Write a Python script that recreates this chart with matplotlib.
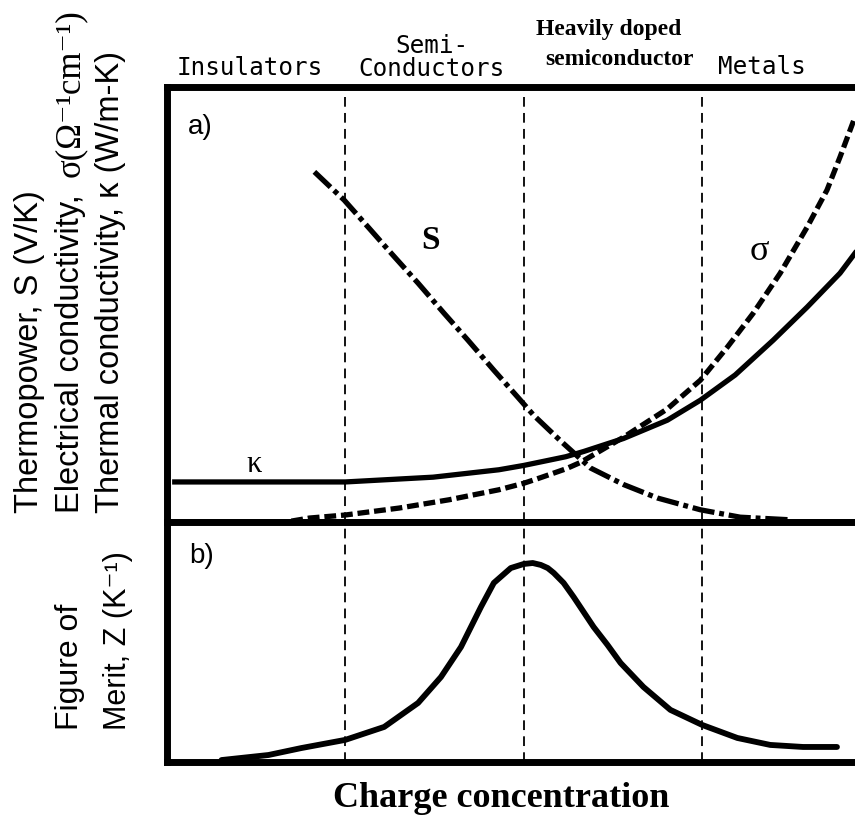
import matplotlib
matplotlib.use("Agg")
import matplotlib.pyplot as plt

plt.rcParams['lines.scale_dashes'] = False

# charge concentration in arbitrary units (region boundaries at 1, 2, 3)
boundaries = [1, 2, 3]

# a) thermopower S
S_x = [0.827, 0.994, 1.128, 1.257, 1.408, 1.553, 1.687, 1.832, 1.966, 2.056, 2.207,
       2.374, 2.559, 2.749, 2.989, 3.212, 3.492]
S_y = [80.5, 74.0, 67.8, 61.8, 54.9, 48.0, 41.8, 34.9, 28.7, 24.5, 18.6,
       12.4, 8.6, 5.5, 2.8, 1.1, 0.5]

# a) thermal conductivity kappa
k_x = [0.045, 0.374, 1.0, 1.492, 1.860, 2.0, 2.235, 2.335, 2.559, 2.804, 2.989, 3.184,
       3.397, 3.587, 3.771, 3.855]
k_y = [9.2, 9.2, 9.2, 10.3, 12.0, 13.0, 15.0, 16.2, 19.2, 23.4, 28.0, 33.8,
       41.8, 49.4, 57.2, 61.8]

# a) electrical conductivity sigma
sig_x = [0.698, 0.799, 1.0, 1.302, 1.581, 1.860, 2.0, 2.095, 2.235, 2.318, 2.559, 2.804,
         2.989, 3.140, 3.285, 3.436, 3.587, 3.698, 3.771, 3.855]
sig_y = [0.2, 0.9, 1.6, 3.2, 5.1, 7.4, 8.9, 10.2, 12.2, 13.7, 19.5, 26.0,
         32.6, 40.2, 48.0, 57.2, 67.8, 76.3, 83.9, 93.1]

# b) figure of merit Z
Z_x = [0.307, 0.570, 0.754, 1.0, 1.218, 1.408, 1.536, 1.648, 1.704, 1.760, 1.832,
       1.927, 2.0, 2.050, 2.095, 2.134, 2.168, 2.223, 2.279, 2.335, 2.391, 2.469, 2.542,
       2.670, 2.821, 3.0, 3.196, 3.380, 3.564, 3.754]
Z_y = [0.8, 2.9, 5.8, 9.2, 14.6, 24.6, 35.4, 47.9, 56.25, 64.6, 74.6,
       80.8, 82.5, 82.9, 82.1, 80.8, 78.75, 74.6, 68.75, 62.5, 56.25, 48.75, 41.25,
       31.25, 21.7, 15.4, 10.0, 7.1, 6.25, 6.25]

fig = plt.figure(figsize=(8.55, 8.18), dpi=100)
ax1 = fig.add_axes([0.195, 0.3619, 0.805, 0.5317])
ax2 = fig.add_axes([0.195, 0.0685, 0.805, 0.2934])

for ax in (ax1, ax2):
    ax.set_xlim(0, 3.855)
    ax.set_ylim(0, 100)
    ax.set_xticks([])
    ax.set_yticks([])
    for s in ['left', 'top', 'bottom']:
        ax.spines[s].set_linewidth(5)
    ax.spines['right'].set_visible(False)
    for b in boundaries:
        ax.axvline(b, color='black', lw=1.3, dashes=(7, 4.5))

ax1.plot(S_x, S_y, color='black', lw=3.8, dashes=(16, 3.5, 3.5, 3.5))
ax1.plot(k_x, k_y, color='black', lw=3.8)
ax1.plot(sig_x, sig_y, color='black', lw=3.8, dashes=(8.5, 3.5))
ax2.plot(Z_x, Z_y, color='black', lw=4.2, solid_capstyle='round', solid_joinstyle='round')

ax1.text(1.48, 64.8, "S", fontsize=24, fontweight='bold', family='Liberation Serif', ha='center', va='center')
ax1.text(3.32, 62.1, "σ", fontsize=26, family='Liberation Serif', ha='center', va='center')
ax1.text(0.49, 13.1, "κ", fontsize=22, family='Liberation Serif', ha='center', va='center')
ax1.text(0.048, 0.908, "a)", fontsize=20, family='Liberation Sans', transform=ax1.transAxes, ha='center', va='center')
ax2.text(0.05, 0.858, "b)", fontsize=20, family='Liberation Sans', transform=ax2.transAxes, ha='center', va='center')

# region labels above the plot
mono = 'DejaVu Sans Mono'
fig.text(0.292, 0.908, "Insulators", fontsize=17.5, family=mono, ha='center', va='baseline')
fig.text(0.505, 0.901, "Semi-\nConductors", fontsize=17.5, family=mono, ha='center', va='bottom',
         multialignment='center', linespacing=0.95)
fig.text(0.712, 0.957, "Heavily doped", fontsize=17, fontweight='bold', family='Liberation Serif', ha='center', va='baseline')
fig.text(0.725, 0.921, "semiconductor", fontsize=17, fontweight='bold', family='Liberation Serif', ha='center', va='baseline')
fig.text(0.891, 0.910, "Metals", fontsize=17.5, family=mono, ha='center', va='baseline')

# y labels
sans = ['Liberation Sans', 'DejaVu Sans']
fig.text(0.034, 0.373, "Thermopower, S (V/K)", fontsize=23.5, family=sans, rotation=90, ha='center', va='bottom')
fig.text(0.082, 0.373, "Electrical conductivity,", fontsize=23.5, family=sans, rotation=90, ha='center', va='bottom')
fig.text(0.082, 0.784, "σ(Ω⁻¹cm⁻¹)", fontsize=25, family=['Liberation Serif', 'DejaVu Serif'], rotation=90, ha='center', va='bottom')
fig.text(0.129, 0.373, "Thermal conductivity, κ (W/m-K)", fontsize=23.5, family=sans, rotation=90, ha='center', va='bottom')
fig.text(0.082, 0.1076, "Figure of", fontsize=23, family=sans, rotation=90, ha='center', va='bottom')
fig.text(0.138, 0.1076, "Merit, Z (K⁻¹)", fontsize=22, family=sans, rotation=90, ha='center', va='bottom')

fig.text(0.586, 0.0135, "Charge concentration", fontsize=26, fontweight='bold', family='Liberation Serif', ha='center', va='baseline')

fig.savefig("out.png", dpi=100)
